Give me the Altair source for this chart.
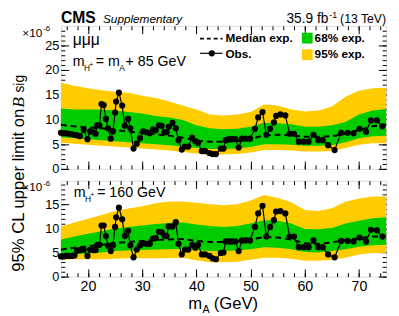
import altair as alt
import pandas as pd

FONT = "Liberation Sans"

# ---------------- data ----------------
obs_x = [15.0, 15.5, 16.0, 16.5, 17.0, 17.5, 18.0, 18.5, 19.2, 19.9, 20.4, 21.0, 21.4, 21.7, 22.1,
         22.5, 22.9, 23.3, 23.7, 24.2, 24.6, 25.0, 25.2, 25.7, 26.3, 26.8, 27.4, 27.8, 28.4, 29.0,
         29.6, 30.2, 30.8, 31.4, 32.0, 32.5, 33.1, 33.6, 34.1, 34.5, 34.9, 35.6, 36.2, 36.7, 37.3,
         37.9, 38.5, 39.2, 39.8, 40.3, 41.0, 41.6, 42.4, 43.0, 43.6, 44.5, 45.0, 45.4, 46.0, 46.6,
         47.2, 47.8, 48.4, 49.1, 49.9, 50.8, 51.4, 52.2, 52.9, 53.6, 54.3, 54.7, 55.5, 56.4, 57.2,
         58.0, 58.9, 59.8, 60.7, 61.6, 62.5, 63.3, 64.3, 65.5, 66.7, 67.9, 69.0, 70.1, 71.3, 72.2,
         73.3, 74.3]

obs_top = [7.3, 7.2, 7.2, 7.1, 7.0, 6.9, 6.8, 6.6, 7.9, 6.0, 7.6, 7.4, 7.1, 8.8, 8.8,
           13.1, 12.9, 10.1, 8.2, 6.1, 7.6, 11.4, 13.6, 15.4, 12.8, 8.7, 10.1, 8.2, 4.1, 5.1,
           6.2, 7.6, 7.4, 7.2, 8.0, 7.8, 8.8, 8.7, 7.4, 7.4, 8.5, 9.3, 8.2, 5.8, 3.9,
           4.5, 4.5, 6.3, 5.6, 5.3, 3.6, 3.6, 3.2, 3.0, 3.0, 4.1, 4.1, 5.8, 6.0, 6.0,
           6.0, 4.3, 6.1, 6.1, 6.1, 8.1, 10.4, 11.5, 6.9, 8.1, 9.4, 10.7, 11.0, 10.8, 7.1,
           7.1, 5.5, 5.5, 5.5, 6.9, 5.8, 5.8, 4.8, 3.8, 7.3, 7.3, 7.2, 8.1, 7.5, 9.8,
           9.8, 8.6]

obs_bot = [4.2, 4.2, 4.3, 4.3, 4.3, 4.4, 5.4, 5.5, 5.6, 4.3, 5.6, 5.5, 5.5, 6.6, 6.6,
           10.6, 10.6, 8.4, 6.4, 5.3, 6.5, 10.3, 12.3, 14.3, 11.9, 8.4, 9.5, 6.5, 4.0, 5.6,
           6.5, 6.9, 6.8, 6.8, 7.9, 8.0, 9.3, 9.2, 8.5, 8.4, 10.4, 10.4, 11.3, 6.8, 4.6,
           5.6, 5.6, 6.6, 6.0, 6.6, 4.6, 4.6, 4.3, 3.8, 3.6, 4.9, 5.0, 7.3, 7.3, 7.3,
           7.3, 5.3, 7.5, 7.5, 7.5, 10.3, 13.1, 14.7, 8.3, 10.3, 11.7, 13.5, 13.6, 13.1, 8.3,
           8.3, 6.1, 6.1, 6.1, 7.5, 6.1, 6.1, 4.6, 4.0, 7.4, 7.4, 7.3, 8.1, 7.3, 9.7,
           9.6, 8.3]

band_x = [15, 17.5, 20, 22.5, 25, 27.5, 30, 32.5, 35, 37.5, 40, 42.5, 45, 47.5, 50,
          52.5, 55, 57.5, 60, 62.5, 65, 67.5, 70, 72.5, 75]

# top panel (m_H+ = m_A + 85 GeV)
y95hi_top = [17.4, 16.8, 16.3, 15.9, 15.6, 15.4, 14.8, 14.3, 13.6, 12.8, 12.0, 11.0, 10.8, 11.0, 11.5,
             13.0, 12.8, 12.0, 11.6, 11.8, 12.6, 14.6, 15.8, 16.3, 16.4]
g68hi_top = [12.2, 12.0, 12.0, 12.0, 11.8, 11.5, 11.2, 10.7, 10.4, 9.9, 8.8, 8.2, 8.0, 8.1, 8.5,
             9.3, 9.2, 9.0, 8.5, 8.5, 8.8, 9.5, 11.0, 11.8, 12.1]
med_top = [8.9, 8.6, 8.4, 8.2, 7.9, 7.5, 7.3, 7.0, 6.7, 6.3, 5.7, 5.5, 5.5, 5.6, 6.0,
           6.8, 6.9, 6.8, 6.5, 6.5, 6.6, 7.1, 7.9, 8.6, 9.0]
g68lo_top = [6.4, 6.2, 6.0, 5.8, 5.6, 5.4, 5.2, 5.0, 4.8, 4.5, 4.2, 4.0, 4.0, 4.1, 4.4,
             5.0, 5.0, 4.9, 4.7, 4.7, 4.8, 5.4, 6.2, 6.6, 6.7]
y95lo_top = [5.3, 5.1, 4.9, 4.7, 4.5, 4.3, 4.1, 3.9, 3.7, 3.4, 3.1, 2.8, 2.9, 3.0, 3.3,
             3.8, 3.8, 3.7, 3.5, 3.5, 3.6, 4.2, 4.9, 5.2, 5.2]

# bottom panel (m_H+ = 160 GeV)
y95hi_bot = [10.4, 11.2, 12.0, 12.8, 13.6, 14.1, 14.6, 15.2, 15.6, 15.6, 15.3, 15.0, 14.8, 15.0, 15.8,
             16.9, 16.3, 15.4, 13.8, 13.6, 14.2, 15.5, 16.2, 16.6, 16.6]
g68hi_bot = [7.7, 8.3, 8.9, 9.4, 10.0, 10.3, 10.6, 10.9, 11.1, 11.2, 10.8, 10.5, 10.3, 10.5, 11.0,
             11.7, 11.6, 11.0, 9.9, 9.8, 10.1, 11.0, 11.6, 12.1, 12.3]
med_bot = [5.6, 6.0, 6.3, 6.6, 7.0, 7.2, 7.4, 7.6, 7.7, 7.8, 7.4, 7.2, 7.2, 7.3, 7.7,
           8.2, 8.1, 7.7, 6.9, 6.8, 7.1, 7.6, 8.0, 8.3, 8.3]
g68lo_bot = [4.4, 4.6, 4.8, 5.0, 5.3, 5.4, 5.5, 5.6, 5.7, 5.8, 5.5, 5.3, 5.3, 5.4, 5.7,
             6.1, 6.0, 5.7, 5.1, 5.0, 5.3, 5.7, 6.2, 6.5, 6.6]
y95lo_bot = [3.5, 3.6, 3.6, 3.6, 3.7, 3.8, 3.8, 3.8, 3.8, 3.9, 3.4, 3.0, 3.0, 3.1, 3.5,
             3.9, 3.9, 3.7, 3.3, 3.3, 3.5, 3.9, 4.6, 4.9, 4.9]

x_major = [20, 30, 40, 50, 60, 70]
x_minor = list(range(16, 75, 2))

YELLOW = "#FFCC00"
GREEN = "#00CC00"
W = 332


def txt(s, x, y, size, align="left", weight="normal", style="normal", font=FONT, angle=0):
    return alt.Chart(pd.DataFrame({"t": [s]})).mark_text(
        text=s, align=align, baseline="alphabetic", fontSize=size, fontWeight=weight,
        fontStyle=style, font=font, angle=angle, color="black"
    ).encode(x=alt.value(x), y=alt.value(y))


def ax(orient, values, size, labels=False, fs=13, pad=2):
    return alt.Axis(orient=orient, values=values, tickSize=size, offset=-size, domain=False,
                    labels=labels, grid=False, title=None, ticks=True, tickColor="black",
                    tickWidth=1, labelFont=FONT, labelFontSize=fs, labelColor="black",
                    labelPadding=pad, labelFlush=False, labelOverlap=False)


def panel(obs_vals, y95lo, g68lo, med, g68hi, y95hi, ymax, h, show_xlabels, extras):
    bands = pd.DataFrame({"x": band_x, "y95lo": y95lo, "y95hi": y95hi,
                          "g68lo": g68lo, "g68hi": g68hi, "med": med})
    obs = pd.DataFrame({"x": obs_x, "y": obs_vals})
    xsc = alt.Scale(domain=[15, 75], nice=False, zero=False)
    ysc = alt.Scale(domain=[0, ymax], nice=False, zero=False)
    y_major = [v for v in range(0, 30, 5) if v < ymax]
    y_minor = [v for v in range(0, 30) if v < ymax]
    b = alt.Chart(bands)
    l1 = b.mark_area(color=YELLOW).encode(
        x=alt.X("x:Q", scale=xsc, axis=ax("bottom", x_major, 8, labels=show_xlabels, fs=14.5, pad=3)),
        y=alt.Y("y95lo:Q", scale=ysc, axis=ax("left", y_major, 8, labels=True, fs=13, pad=2)),
        y2="y95hi:Q")
    l2 = b.mark_area(color=GREEN).encode(
        x=alt.X("x:Q", scale=xsc, axis=ax("bottom", x_minor, 4)),
        y=alt.Y("g68lo:Q", scale=ysc, axis=ax("left", y_minor, 4)),
        y2="g68hi:Q")
    l3 = b.mark_line(color="black", strokeDash=[6, 4], strokeWidth=2).encode(
        x=alt.X("x:Q", scale=xsc, axis=ax("top", x_major, 8)),
        y=alt.Y("med:Q", scale=ysc, axis=ax("right", y_major, 8)))
    o = alt.Chart(obs)
    l4 = o.mark_line(color="black", strokeWidth=1.2).encode(
        x=alt.X("x:Q", scale=xsc, axis=ax("top", x_minor, 4)),
        y=alt.Y("y:Q", scale=ysc, axis=ax("right", y_minor, 4)))
    l5 = o.mark_circle(color="black", size=40, opacity=1).encode(
        x=alt.X("x:Q", scale=xsc, axis=None),
        y=alt.Y("y:Q", scale=ysc, axis=None))
    return alt.layer(l1, l2, l3, l4, l5, *extras).resolve_scale(
        x="independent", y="independent").properties(width=W, height=h)


# legend pieces (top panel)
leg_df = pd.DataFrame({"k": [0]})
legend = [
    alt.Chart(leg_df).mark_rule(color="black", strokeDash=[4, 3], strokeWidth=2).encode(
        x=alt.value(142), x2=alt.value(165), y=alt.value(13)),
    txt("Median exp.", 168, 16.5, 12, weight="bold"),
    alt.Chart(leg_df).mark_rule(color="black", strokeWidth=1.2).encode(
        x=alt.value(142), x2=alt.value(165), y=alt.value(28)),
    alt.Chart(leg_df).mark_circle(color="black", size=40, opacity=1).encode(
        x=alt.value(154), y=alt.value(28)),
    txt("Obs.", 168, 33, 12, weight="bold"),
    alt.Chart(leg_df).mark_rect(color=GREEN).encode(
        x=alt.value(246), x2=alt.value(257), y=alt.value(7), y2=alt.value(18)),
    txt("68% exp.", 259, 16.5, 12, weight="bold"),
    alt.Chart(leg_df).mark_rect(color=YELLOW).encode(
        x=alt.value(246), x2=alt.value(257), y=alt.value(24), y2=alt.value(35)),
    txt("95% exp.", 259, 33, 12, weight="bold"),
]

top_extras = [
    txt("CMS", 0, -3, 16, weight="bold"),
    txt("Supplementary", 43, -3, 12, style="italic"),
    txt("(13 TeV)", 332, -3, 12.5, align="right"),
    txt("-1", 282, -8.5, 9, align="right"),
    txt("35.9 fb", 273, -3, 14, align="right"),
    txt("×10", -19, 11, 12, align="right"),
    txt("-6", -18, 5, 8),
    txt("μμμ", 12, 20, 16),
    txt("m", 12, 41.3, 14.5),
    txt("H", 23.5, 46.3, 8.5),
    txt("+", 29, 42, 7),
    txt("= m", 35.5, 41.3, 14.5),
    txt("A", 59.5, 46.3, 8.5),
    txt("+ 85 GeV", 66, 41.3, 14.5),
    # y axis title (shared)
    txt("95% CL upper limit on", -38, 251, 17, angle=270),
    txt("B", -38, 83.5, 18, font="Liberation Serif", style="italic", angle=270),
    txt("sig", -37.2, 68, 14, angle=270),
] + legend

bot_extras = [
    txt("×10", -19, 10.7, 12, align="right"),
    txt("-6", -18, 5, 8),
    txt("m", 13, 17, 14.5),
    txt("H", 24.5, 22, 8.5),
    txt("+", 30, 16.5, 7),
    txt("= 160 GeV", 37, 17, 14.5),
    # x axis title
    txt("m", 130, 131.5, 17),
    txt("A", 144.5, 135, 11),
    txt("(GeV)", 156, 131.5, 17),
]

top = panel(obs_top, y95lo_top, g68lo_top, med_top, g68hi_top, y95hi_top, 28.9, 146, False, top_extras)
bot = panel(obs_bot, y95lo_bot, g68lo_bot, med_bot, g68hi_bot, y95hi_bot, 19.9, 98, True, bot_extras)

chart = alt.vconcat(top, bot, spacing=12, bounds="flush").properties(
    padding={"left": 1, "top": -2, "right": 0, "bottom": 0}
).configure_view(stroke="black", strokeWidth=1).configure(background="white")

chart.save("out.html", embed_options={"renderer": "svg", "actions": False})
